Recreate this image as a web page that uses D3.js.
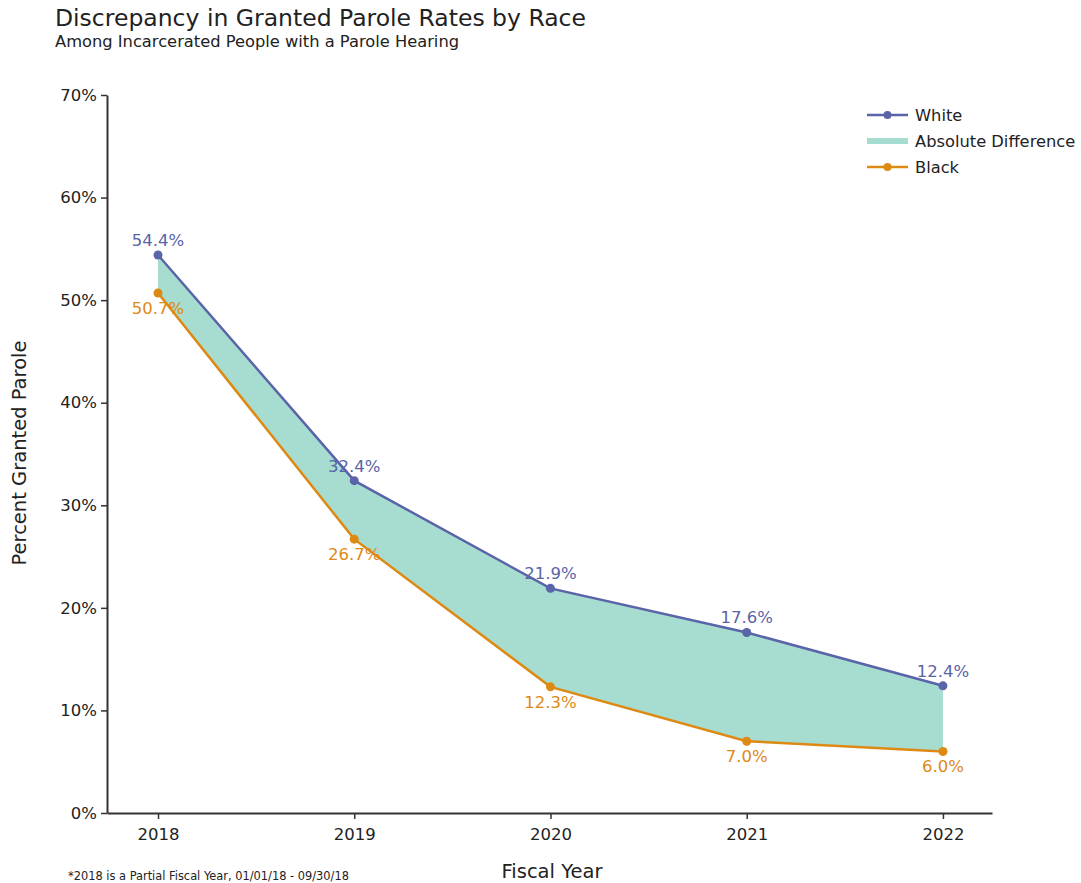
<!DOCTYPE html>
<html>
<head>
<meta charset="utf-8">
<script src="https://cdn.jsdelivr.net/npm/d3@7"></script>
<style>
  body { margin: 0; background: #fff; }
  svg { font-family: "DejaVu Sans", Verdana, sans-serif; }
</style>
</head>
<body>
<div id="chart"></div>
<script>
const years = [2018, 2019, 2020, 2021, 2022];
const white = [54.4, 32.4, 21.9, 17.6, 12.4];
const black = [50.7, 26.7, 12.3, 7.0, 6.0];
const yTicks = [0, 10, 20, 30, 40, 50, 60, 70];
const legendItems = ['White', 'Absolute Difference', 'Black'];

const W = 1081, H = 883;
const colWhite = '#5a64a8', colBlack = '#dd8a14', colFill = '#a6ddd0';

const svg = d3.select('#chart').append('svg')
    .attr('width', W).attr('height', H);

const x = d3.scaleLinear().domain([2017.74, 2022.25]).range([107, 992]);
const y = d3.scaleLinear().domain([0, 70]).range([813, 95]);

const rows = years.map((yr, i) => ({ yr, w: white[i], b: black[i] }));

// Titles
svg.append('text').attr('x', 55).attr('y', 26)
    .attr('font-size', 23.5).attr('fill', '#222')
    .text('Discrepancy in Granted Parole Rates by Race');
svg.append('text').attr('x', 55).attr('y', 47)
    .attr('font-size', 16.3).attr('fill', '#222')
    .text('Among Incarcerated People with a Parole Hearing');

// Area between series
svg.append('path')
    .datum(rows)
    .attr('fill', colFill)
    .attr('d', d3.area().x(d => x(d.yr)).y0(d => y(d.b)).y1(d => y(d.w)));

// Axes
const yAxis = svg.append('g').attr('transform', 'translate(107,0)')
    .call(d3.axisLeft(y).tickValues(yTicks).tickFormat(d => d + '%').tickSize(6).tickSizeOuter(0));
const xAxis = svg.append('g').attr('transform', 'translate(0,813)')
    .call(d3.axisBottom(x).tickValues(years).tickFormat(d3.format('d')).tickSize(6).tickSizeOuter(0));
[yAxis, xAxis].forEach(a => {
    a.select('.domain').attr('stroke', '#333').attr('stroke-width', 2);
    a.selectAll('.tick line').attr('stroke', '#333').attr('stroke-width', 1.5);
    a.selectAll('.tick text').attr('font-size', 16.5).attr('fill', '#222')
        .attr('font-family', '"DejaVu Sans", Verdana, sans-serif');
});
yAxis.selectAll('.tick text').attr('x', -10);
xAxis.selectAll('.tick text').attr('y', 15);

// Axis titles
svg.append('text')
    .attr('transform', 'translate(26,453) rotate(-90)')
    .attr('text-anchor', 'middle').attr('font-size', 19.5).attr('fill', '#222')
    .text('Percent Granted Parole');
svg.append('text').attr('x', 552).attr('y', 878)
    .attr('text-anchor', 'middle').attr('font-size', 19.5).attr('fill', '#222')
    .text('Fiscal Year');
svg.append('text').attr('x', 68).attr('y', 880)
    .attr('font-size', 11.4).attr('fill', '#222')
    .text('*2018 is a Partial Fiscal Year, 01/01/18 - 09/30/18');

// Lines, points, labels
const series = [
    { key: 'w', color: colWhite, dy: -9 },
    { key: 'b', color: colBlack, dy: 21 }
];
series.forEach(s => {
    svg.append('path').datum(rows)
        .attr('fill', 'none').attr('stroke', s.color).attr('stroke-width', 2.5)
        .attr('d', d3.line().x(d => x(d.yr)).y(d => y(d[s.key])));
    svg.append('g').selectAll('circle').data(rows).join('circle')
        .attr('cx', d => x(d.yr)).attr('cy', d => y(d[s.key]))
        .attr('r', 4.5).attr('fill', s.color);
    svg.append('g').selectAll('text').data(rows).join('text')
        .attr('x', d => x(d.yr)).attr('y', d => y(d[s.key]) + s.dy)
        .attr('text-anchor', 'middle').attr('font-size', 16.5).attr('fill', s.color)
        .text(d => d[s.key].toFixed(1) + '%');
});

// Legend
const legend = svg.append('g').attr('transform', 'translate(867,115)');
legendItems.forEach((name, i) => {
    const g = legend.append('g').attr('transform', `translate(0,${i * 26})`);
    if (i === 1) {
        g.append('rect').attr('x', 0).attr('y', -3).attr('width', 41).attr('height', 6).attr('fill', colFill);
    } else {
        const c = i === 0 ? colWhite : colBlack;
        g.append('line').attr('x1', 0).attr('x2', 41).attr('stroke', c).attr('stroke-width', 2.5);
        g.append('circle').attr('cx', 20.5).attr('r', 4).attr('fill', c);
    }
    g.append('text').attr('x', 48).attr('y', 6)
        .attr('font-size', 16.3).attr('fill', '#222').text(name);
});
</script>
</body>
</html>
